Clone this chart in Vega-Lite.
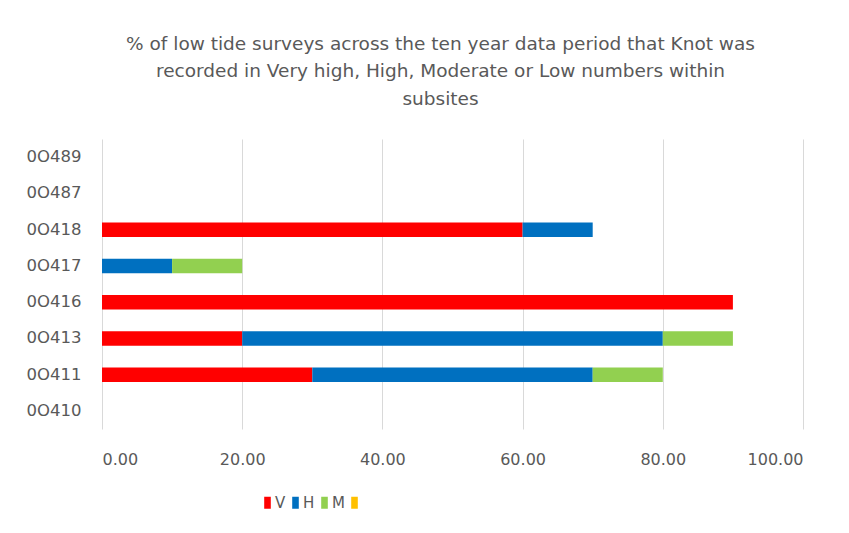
{
  "$schema": "https://vega.github.io/schema/vega-lite/v6.json",
  "width": 701,
  "height": 290,
  "autosize": "none",
  "padding": {"left": 102, "top": 139, "right": 46, "bottom": 104},
  "background": "white",
  "title": {
    "text": ["% of low tide surveys across the ten year data period that Knot was", "recorded in Very high, High, Moderate or Low numbers within", "subsites"],
    "anchor": "middle",
    "frame": "group",
    "dx": -12,
    "offset": 31,
    "font": "DejaVu Sans",
    "fontSize": 18.5,
    "fontWeight": "normal",
    "color": "#595959",
    "lineHeight": 27.5
  },
  "data": {
    "values": [
      {"site": "0O418", "level": "V", "pct": 60},
      {"site": "0O418", "level": "H", "pct": 10},
      {"site": "0O417", "level": "H", "pct": 10},
      {"site": "0O417", "level": "M", "pct": 10},
      {"site": "0O416", "level": "V", "pct": 90},
      {"site": "0O413", "level": "V", "pct": 20},
      {"site": "0O413", "level": "H", "pct": 60},
      {"site": "0O413", "level": "M", "pct": 10},
      {"site": "0O411", "level": "V", "pct": 30},
      {"site": "0O411", "level": "H", "pct": 40},
      {"site": "0O411", "level": "M", "pct": 10}
    ]
  },
  "transform": [
    {"calculate": "indexof(['V','H','M',' '], datum.level)", "as": "order"}
  ],
  "mark": {"type": "bar"},
  "encoding": {
    "y": {
      "field": "site",
      "type": "nominal",
      "scale": {
        "domain": ["0O489", "0O487", "0O418", "0O417", "0O416", "0O413", "0O411", "0O410"],
        "paddingInner": 0.6,
        "paddingOuter": 0.3
      },
      "axis": {
        "title": null,
        "domain": false,
        "ticks": false,
        "grid": false,
        "labelPadding": 21,
        "labelFont": "DejaVu Sans",
        "labelFontSize": 16.5,
        "labelColor": "#595959"
      }
    },
    "x": {
      "field": "pct",
      "type": "quantitative",
      "stack": "zero",
      "scale": {"domain": [0, 100], "nice": false},
      "axis": {
        "title": null,
        "values": [0, 20, 40, 60, 80, 100],
        "format": ".2f",
        "domain": false,
        "ticks": false,
        "grid": true,
        "gridColor": "#d9d9d9",
        "gridWidth": 1,
        "labelPadding": 22,
        "labelFont": "DejaVu Sans",
        "labelFontSize": 16,
        "labelColor": "#595959"
      }
    },
    "color": {
      "field": "level",
      "type": "nominal",
      "scale": {
        "domain": ["V", "H", "M", " "],
        "range": ["#ff0000", "#0070c0", "#92d050", "#ffc000"]
      },
      "legend": {
        "title": null,
        "orient": "none",
        "legendX": 158,
        "legendY": 356,
        "direction": "horizontal",
        "symbolType": "M -0.55 -1 L 0.55 -1 L 0.55 1 L -0.55 1 Z",
        "symbolSize": 144,
        "symbolStrokeWidth": 0,
        "labelFont": "DejaVu Sans",
        "labelFontSize": 15,
        "labelColor": "#595959",
        "labelOffset": 0,
        "columnPadding": 2
      }
    },
    "order": {"field": "order", "type": "quantitative"}
  },
  "config": {
    "view": {"stroke": null}
  }
}
